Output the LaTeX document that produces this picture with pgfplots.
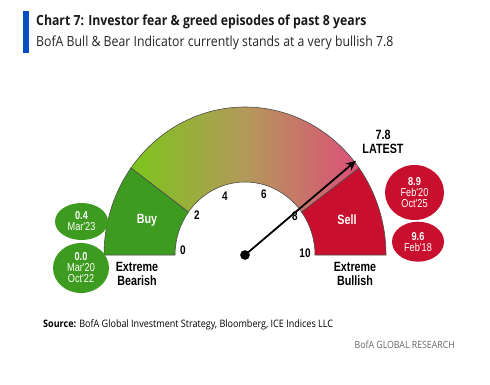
\documentclass[border=0pt]{standalone}
\usepackage{pgfplots}
\pgfplotsset{compat=1.18}
\usepackage{fontspec}
\setmainfont[FakeStretch=0.88]{Open Sans}
\newfontfamily\narrow[FakeStretch=0.8]{Liberation Sans}
\usetikzlibrary{arrows.meta,calc}
\definecolor{buygreen}{HTML}{3D9B1F}
\definecolor{sellred}{HTML}{C8102E}
\definecolor{gleft}{HTML}{7CC51B}
\definecolor{gmid}{HTML}{B3995A}
\definecolor{gright}{HTML}{DC4F79}
\definecolor{bofablue}{HTML}{0A4FC2}
\begin{document}
\begin{tikzpicture}
\begin{axis}[width=490bp,height=384bp,scale only axis,
  xmin=-245,xmax=245,ymin=-129,ymax=255,hide axis,clip=false]
\path[fill=white] (axis cs:-245,-129) rectangle (axis cs:245,255);
% title
\fill[bofablue] (axis cs:-222,202) rectangle (axis cs:-216,244);
\node[anchor=west,inner sep=0pt,text=black!90,font=\bfseries\fontsize{14}{14}\selectfont] at (axis cs:-209,233) {Chart 7: Investor fear \& greed episodes of past 8 years};
\node[anchor=west,inner sep=0pt,text=black!85,font=\fontsize{14}{14}\selectfont] at (axis cs:-209,212) {BofA Bull \& Bear Indicator currently stands at a very bullish 7.8};
% gauge bands
\coordinate (C) at (axis cs:0,0);
\path[draw=black!70,line width=0.6pt,left color=gleft,right color=gright,middle color=gmid]
  ($(C)+(144:141bp and 148bp)$) arc[start angle=144,end angle=36,x radius=141bp,y radius=148bp]
  -- ($(C)+(36:70bp and 73bp)$) arc[start angle=36,end angle=144,x radius=70bp,y radius=73bp] -- cycle;
\path[draw=black!70,line width=0.6pt,fill=buygreen]
  ($(C)+(180:141bp and 148bp)$) arc[start angle=180,end angle=144,x radius=141bp,y radius=148bp]
  -- ($(C)+(144:70bp and 73bp)$) arc[start angle=144,end angle=180,x radius=70bp,y radius=73bp] -- cycle;
\path[draw=black!70,line width=0.6pt,fill=sellred]
  ($(C)+(36:141bp and 148bp)$) arc[start angle=36,end angle=0,x radius=141bp,y radius=148bp]
  -- ($(C)+(0:70bp and 73bp)$) arc[start angle=0,end angle=36,x radius=70bp,y radius=73bp] -- cycle;
% tick labels
\begin{scope}[every node/.style={font=\narrow\bfseries\fontsize{12.5}{12.5}\selectfont,inner sep=0pt}]
\node at (axis cs:-62,5) {0};
\node at (axis cs:-48,40) {2};
\node at (axis cs:-20,59) {4};
\node at (axis cs:19,61) {6};
\node at (axis cs:50,39) {8};
\node at (axis cs:60,2) {10};
\end{scope}
% labels
\begin{scope}[every node/.style={font=\narrow\bfseries\fontsize{13.5}{14.5}\selectfont,inner sep=0pt,align=center}]
\node[text=white] at (axis cs:-98,35) {Buy};
\node[text=white] at (axis cs:102,35) {Sell};
\node at (axis cs:-108,-19) {Extreme\\Bearish};
\node at (axis cs:110,-19) {Extreme\\Bullish};
\node at (axis cs:138,113) {7.8\\LATEST};
\end{scope}
% pointer (latest reading 7.8)
\addplot[black,line width=1.8pt,-{Stealth[length=10pt,width=9pt]}] coordinates {(0,0) (111,94.3)};
\addplot[only marks,mark=*,mark size=4.6pt,black] coordinates {(0,0)};
% bubbles
\fill[buygreen] (axis cs:-163.5,33.5) ellipse[x radius=26.5bp,y radius=18.5bp];
\fill[buygreen] (axis cs:-164,-13) ellipse[x radius=28bp,y radius=25bp];
\fill[sellred] (axis cs:169.5,62.5) ellipse[x radius=29.5bp,y radius=27.5bp];
\fill[sellred] (axis cs:173,13.3) ellipse[x radius=26bp,y radius=20bp];
\begin{scope}[every node/.style={font=\narrow\fontsize{11.5}{11}\selectfont,inner sep=0pt,align=center,text=white}]
\node at (axis cs:-163.5,33.5) {\textbf{0.4}\\Mar'23};
\node at (axis cs:-164,-13) {\textbf{0.0}\\Mar'20\\Oct'22};
\node at (axis cs:169.5,62.5) {\textbf{8.9}\\Feb'20\\Oct'25};
\node at (axis cs:173,13.3) {\textbf{9.6}\\Feb'18};
\end{scope}
% footer
\node[anchor=west,inner sep=0pt,font=\fontsize{10.3}{10.3}\selectfont] at (axis cs:-202,-70) {\textbf{Source:} BofA Global Investment Strategy, Bloomberg, ICE Indices LLC};
\node[anchor=east,inner sep=0pt,text=black!60,font=\fontsize{10}{10}\selectfont] at (axis cs:210,-90) {BofA GLOBAL RESEARCH};
\end{axis}
\end{tikzpicture}
\end{document}
